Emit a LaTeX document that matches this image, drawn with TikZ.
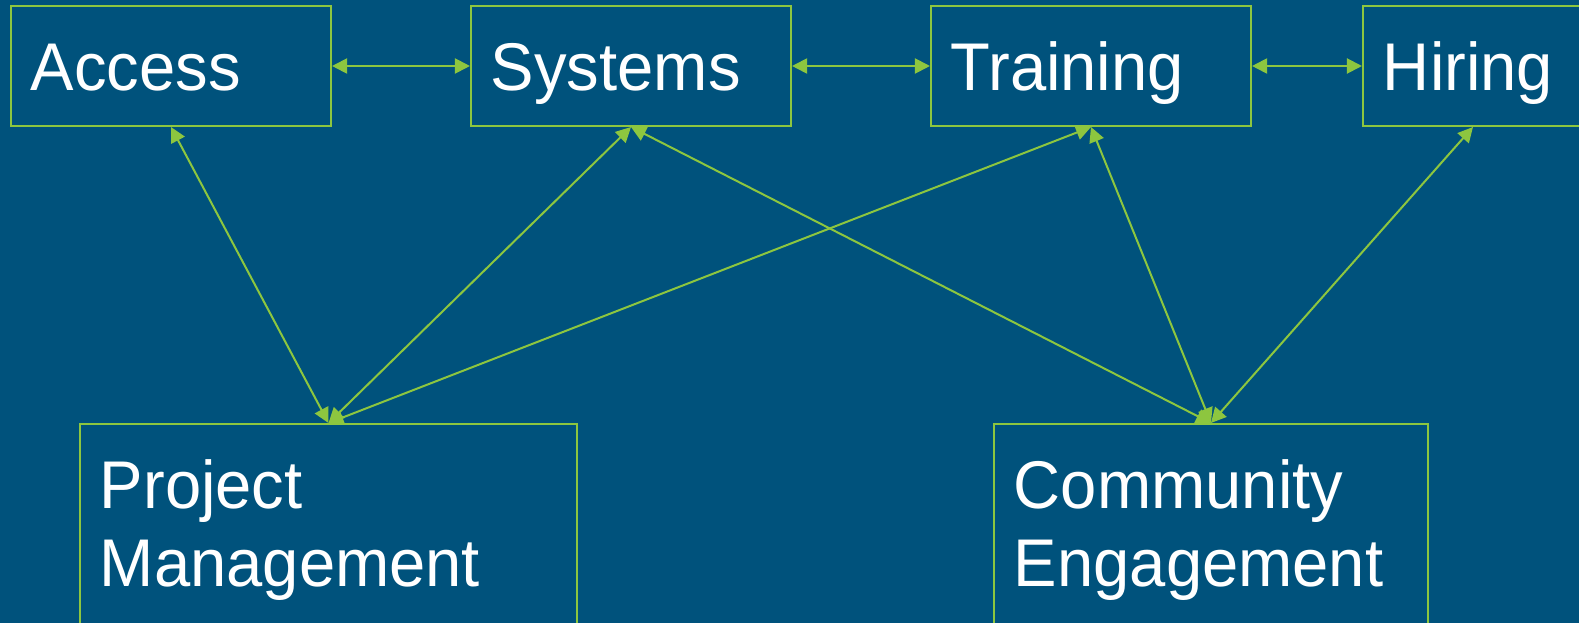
\documentclass[tikz,border=0pt]{standalone}
\usepackage{fontspec}
\setmainfont[FakeStretch=0.965]{Liberation Sans}
\usetikzlibrary{arrows.meta}
\usepackage{xcolor}

\definecolor{bgblue}{RGB}{0,82,124}
\definecolor{linkgreen}{RGB}{141,198,63}

\tikzset{
    box/.style={draw=linkgreen, line width=0.05cm, text=white, inner xsep=0.5cm, inner ysep=0pt,
        align=left, font=\fontsize{48pt}{55.5pt}\selectfont},
    topbox/.style={box, text height=1.2cm, text depth=0pt, minimum height=3cm},
    lowbox/.style={box, anchor=north, text height=2.1cm, text depth=4cm},
    link/.style={linkgreen, line width=0.05cm,
        {Triangle[length=0.375cm,width=0.375cm]}-{Triangle[length=0.375cm,width=0.375cm]}}
}

\begin{document}
\begin{tikzpicture}[x=0.025cm, y=-0.025cm]
        \useasboundingbox (0,0) rectangle (1579,623);
        \fill[bgblue] (0,0) rectangle (1579,623);

        \coordinate (A) at (171,66);
        \coordinate (S) at (631,66);
        \coordinate (T) at (1091,66);
        \coordinate (H) at (1473,66);
        \coordinate (P) at (328.5,423);
        \coordinate (C) at (1211,423);

        \node[topbox, text width=7cm] (access) at (A) {Access};
        \node[topbox, text width=7cm] (systems) at (S) {Systems};
        \node[topbox, text width=7cm] (training) at (T) {Training};
        \node[topbox, text width=4.5cm] (hiring) at (H) {Hiring};
        \node[lowbox, text width=11.425cm] (pm) at (P) {Project\\Management};
        \node[lowbox, text width=9.85cm] (ce) at (C) {Community\\Engagement};

        \draw[link] (access.east) -- (systems.west);
        \draw[link] (systems.east) -- (training.west);
        \draw[link] (training.east) -- (hiring.west);

        \foreach \a/\b in {access/pm, systems/pm, training/pm, systems/ce, training/ce, hiring/ce}{
            \draw[link] (\a.south) -- (\b.north);
        }
    \end{tikzpicture}
\end{document}
